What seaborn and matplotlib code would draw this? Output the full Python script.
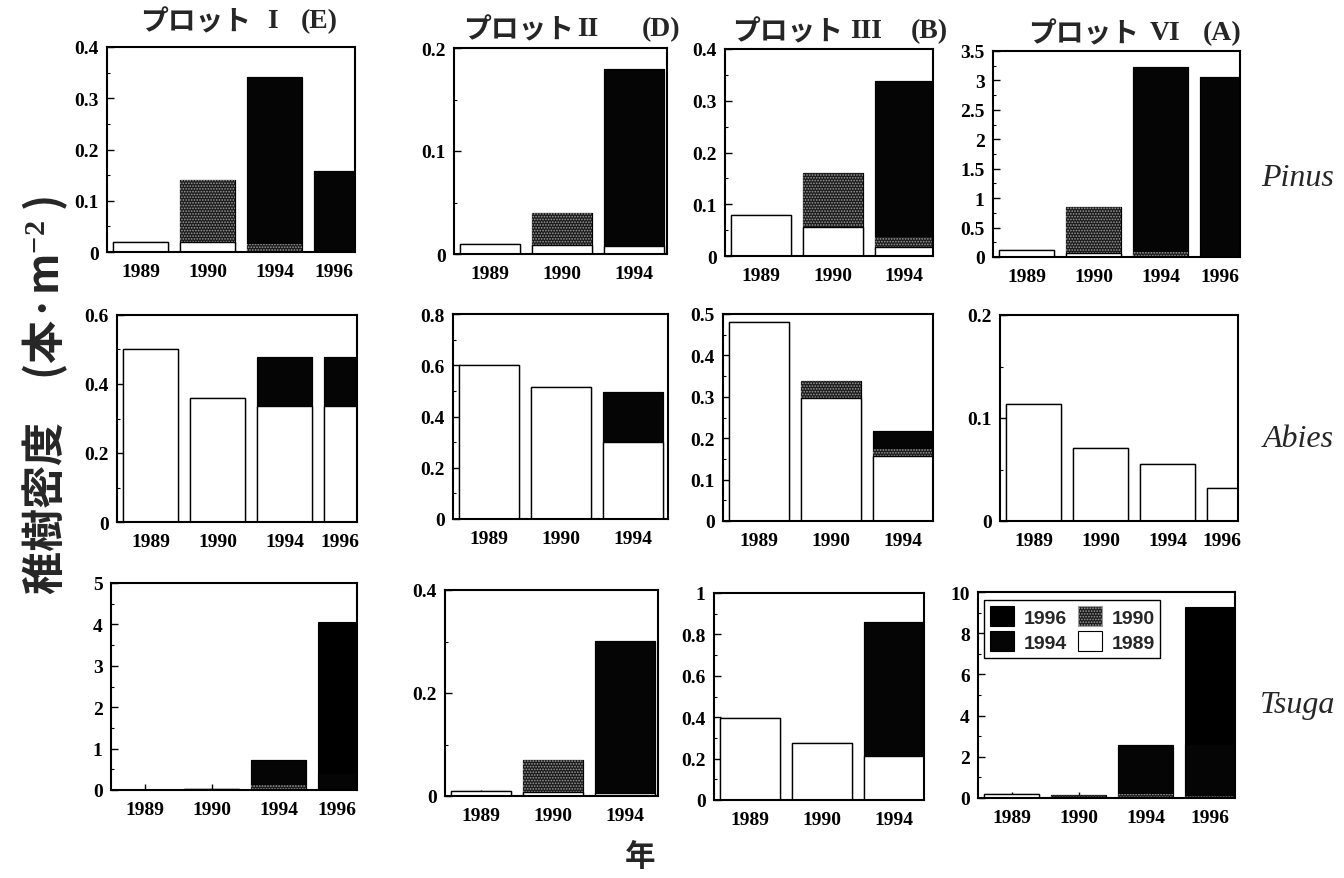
import matplotlib
matplotlib.use("Agg")
import matplotlib.pyplot as plt
import seaborn as sns
import pandas as pd
from matplotlib.patches import Patch
from matplotlib.ticker import AutoMinorLocator, FuncFormatter, MultipleLocator

sns.set_theme(style="white")
plt.rcParams["font.family"] = ["Liberation Serif", "DejaVu Serif"]
plt.rcParams["font.weight"] = "bold"
plt.rcParams["hatch.linewidth"] = 0.8
plt.rcParams["mathtext.fontset"] = "custom"
plt.rcParams["mathtext.rm"] = "Liberation Serif:bold"
plt.rcParams["mathtext.it"] = "Liberation Serif:bold"
plt.rcParams["mathtext.default"] = "rm"

SERIF = ["Liberation Serif", "DejaVu Serif"]
CJK = ["Noto Sans CJK JP", "DejaVu Sans"]

# ---- categories -------------------------------------------------------
years4 = ["1989", "1990", "1994", "1996"]
years3 = ["1989", "1990", "1994"]
survey_years = [years4, years3, years3, years4]
cohorts = ["1989", "1990", "1994", "1996"]

plot_kana = "プロット"
plot_numerals = ["I", "II", "III", "VI"]
plot_codes = ["(E)", "(D)", "(B)", "(A)"]
species = ["Pinus", "Abies", "Tsuga"]

# ---- seedling density (stems per m2) by germination cohort -------------
pinus_I = {"1989": [0.020, 0.020, 0.000, 0.000], "1990": [0.000, 0.120, 0.016, 0.000],
           "1994": [0.000, 0.000, 0.325, 0.159], "1996": [0.000, 0.000, 0.000, 0.000]}
pinus_II = {"1989": [0.010, 0.009, 0.008], "1990": [0.000, 0.031, 0.000],
            "1994": [0.000, 0.000, 0.172], "1996": [0.000, 0.000, 0.000]}
pinus_III = {"1989": [0.079, 0.057, 0.018], "1990": [0.000, 0.103, 0.019],
             "1994": [0.000, 0.000, 0.302], "1996": [0.000, 0.000, 0.000]}
pinus_VI = {"1989": [0.12, 0.06, 0.00, 0.00], "1990": [0.00, 0.79, 0.085, 0.00],
            "1994": [0.00, 0.00, 3.145, 3.05], "1996": [0.00, 0.00, 0.00, 0.00]}

abies_I = {"1989": [0.500, 0.359, 0.335, 0.335], "1990": [0.000, 0.000, 0.000, 0.000],
           "1994": [0.000, 0.000, 0.144, 0.144], "1996": [0.000, 0.000, 0.000, 0.000]}
abies_II = {"1989": [0.600, 0.515, 0.300], "1990": [0.000, 0.000, 0.000],
            "1994": [0.000, 0.000, 0.195], "1996": [0.000, 0.000, 0.000]}
abies_III = {"1989": [0.480, 0.298, 0.157], "1990": [0.000, 0.041, 0.016],
             "1994": [0.000, 0.000, 0.045], "1996": [0.000, 0.000, 0.000]}
abies_VI = {"1989": [0.114, 0.071, 0.055, 0.032], "1990": [0.000, 0.000, 0.000, 0.000],
            "1994": [0.000, 0.000, 0.000, 0.000], "1996": [0.000, 0.000, 0.000, 0.000]}

tsuga_I = {"1989": [0.01, 0.02, 0.00, 0.00], "1990": [0.00, 0.00, 0.12, 0.00],
           "1994": [0.00, 0.00, 0.61, 0.40], "1996": [0.00, 0.00, 0.00, 3.65]}
tsuga_II = {"1989": [0.010, 0.008, 0.005], "1990": [0.000, 0.061, 0.000],
            "1994": [0.000, 0.000, 0.296], "1996": [0.000, 0.000, 0.000]}
tsuga_III = {"1989": [0.395, 0.274, 0.213], "1990": [0.000, 0.000, 0.000],
             "1994": [0.000, 0.000, 0.645], "1996": [0.000, 0.000, 0.000]}
tsuga_VI = {"1989": [0.19, 0.04, 0.00, 0.00], "1990": [0.00, 0.12, 0.20, 0.10],
            "1994": [0.00, 0.00, 2.36, 2.50], "1996": [0.00, 0.00, 0.00, 6.67]}

panels = [[pinus_I, pinus_II, pinus_III, pinus_VI],
          [abies_I, abies_II, abies_III, abies_VI],
          [tsuga_I, tsuga_II, tsuga_III, tsuga_VI]]

# y-axis range and major tick step of every panel
y_max = [[0.4, 0.2, 0.4, 3.5], [0.6, 0.8, 0.5, 0.2], [5, 0.4, 1, 10]]
y_step = [[0.1, 0.1, 0.1, 0.5], [0.2, 0.2, 0.1, 0.1], [1, 0.2, 0.2, 2]]

# ---- figure layout (pixel boxes: left, right, top, bottom) --------------
W, H = 1344, 879
boxes = [[(107, 355, 48, 253), (454, 667, 49, 255), (725, 933, 50, 257), (993, 1240, 52, 258)],
         [(117, 357, 316, 523), (453, 668, 315, 520), (723, 933, 315, 522), (1000, 1238, 316, 522)],
         [(111, 357, 584, 791), (445, 658, 591, 797), (714, 924, 594, 801), (978, 1235, 593, 799)]]

BAR_W = 0.83
styles = {
    "1996": dict(color="#000000", edgecolor="#000000", linewidth=0.8),
    "1994": dict(color="#050505", edgecolor="#000000", linewidth=0.8),
    "1990": dict(color="#1c1c1c", edgecolor="#9a9a9a", linewidth=0, hatch="......"),
    "1989": dict(color="#ffffff", edgecolor="#000000", linewidth=1.0),
}

fig = plt.figure(figsize=(W / 100, H / 100), dpi=100)
fig.patch.set_facecolor("white")


def fmt(v, _pos):
    return f"{v:g}"


for r in range(3):
    for c in range(4):
        x0, x1, y0, y1 = boxes[r][c]
        ax = fig.add_axes([x0 / W, 1 - y1 / H, (x1 - x0) / W, (y1 - y0) / H])
        years = survey_years[c]
        comp = pd.DataFrame(panels[r][c], index=years)[cohorts]
        cum = comp.cumsum(axis=1)
        n = len(years)
        spacing = 67 if n == 4 else 72
        # stacked bars: overlay cumulative totals, outermost cohort first
        for cohort in reversed(cohorts):
            sub = pd.DataFrame({"year": years, "value": cum[cohort].values})
            sns.barplot(data=sub, x="year", y="value", order=years, ax=ax,
                        width=BAR_W, saturation=1, **styles[cohort])
        x_right = -0.5 + (x1 - x0) / spacing
        ax.set_xlim(-0.5, x_right)
        ax.set_ylim(0, y_max[r][c])
        ax.set_xlabel("")
        ax.set_ylabel("")
        # the last bar is cut by the frame: centre its label on the visible part
        ticks = list(range(n))
        if x_right < n - 1 + BAR_W / 2:
            ticks[-1] = (n - 1 - BAR_W / 2 + x_right) / 2
        ax.set_xticks(ticks, labels=years)
        ax.yaxis.set_major_locator(MultipleLocator(y_step[r][c]))
        ax.yaxis.set_minor_locator(AutoMinorLocator(2))
        ax.yaxis.set_major_formatter(FuncFormatter(fmt))
        ax.tick_params(axis="both", which="both", direction="in", left=True,
                       bottom=True, colors="black")
        ax.tick_params(axis="y", which="major", length=5, width=1, pad=6)
        ax.tick_params(axis="y", which="minor", length=2.5, width=0.8)
        ax.tick_params(axis="x", which="major", length=4, width=1, pad=8)
        for lab in ax.get_xticklabels() + ax.get_yticklabels():
            lab.set_fontfamily(SERIF)
            lab.set_fontweight("bold")
            lab.set_fontsize(14)
        for sp in ax.spines.values():
            sp.set_visible(True)
            sp.set_color("black")
            sp.set_linewidth(1.5)
        ax.set_facecolor("white")
        if r == 2 and c == 3:
            handles = [Patch(facecolor=styles[k]["color"],
                             edgecolor="#9a9a9a" if k == "1990" else "black",
                             hatch=styles[k].get("hatch"), linewidth=0.8)
                       for k in ["1996", "1994", "1990", "1989"]]
            leg = ax.legend(handles, ["1996", "1994", "1990", "1989"], ncol=2,
                            loc="upper left", bbox_to_anchor=(0.025, 0.96),
                            prop={"family": "Liberation Sans", "size": 14},
                            frameon=True, fancybox=False, borderpad=0.3,
                            handlelength=1.2, handleheight=1.2, handletextpad=0.5,
                            columnspacing=0.6, labelspacing=0.25, borderaxespad=0)
            leg.get_frame().set_edgecolor("black")
            leg.get_frame().set_linewidth(1.0)
            leg.get_frame().set_alpha(1)

# column titles: kana, roman numeral, plot code
title_pos = [(140, 272, 338, 22), (463, 588, 680, 30), (732, 866, 948, 32), (1028, 1165, 1242, 34)]
for c in range(4):
    xk, xn, xc, yc = title_pos[c]
    fig.text(xk / W, 1 - yc / H, plot_kana, family=CJK, weight="bold",
             fontsize=20, ha="left", va="center")
    fig.text(xn / W, 1 - yc / H, plot_numerals[c], family=SERIF, weight="bold",
             fontsize=20, ha="center", va="center")
    fig.text(xc / W, 1 - yc / H, plot_codes[c], family=SERIF, weight="bold",
             fontsize=20, ha="right", va="center")

# species labels on the right
for r, name in enumerate(species):
    yc = [178, 440, 705][r]
    fig.text(1298 / W, 1 - yc / H, name, family=SERIF, style="italic",
             weight="normal", fontsize=23, ha="center", va="center")

# shared axis labels
fig.text(45 / W, 1 - 395 / H, "稚樹密度　(本·m$^{-2}$ )", family=CJK, weight="bold",
         fontsize=31, rotation=90, ha="center", va="center")
fig.text(640 / W, 1 - 857 / H, "年", family=CJK, weight="bold", fontsize=22,
         ha="center", va="center")

fig.savefig("out.png", dpi=100, facecolor="white")
